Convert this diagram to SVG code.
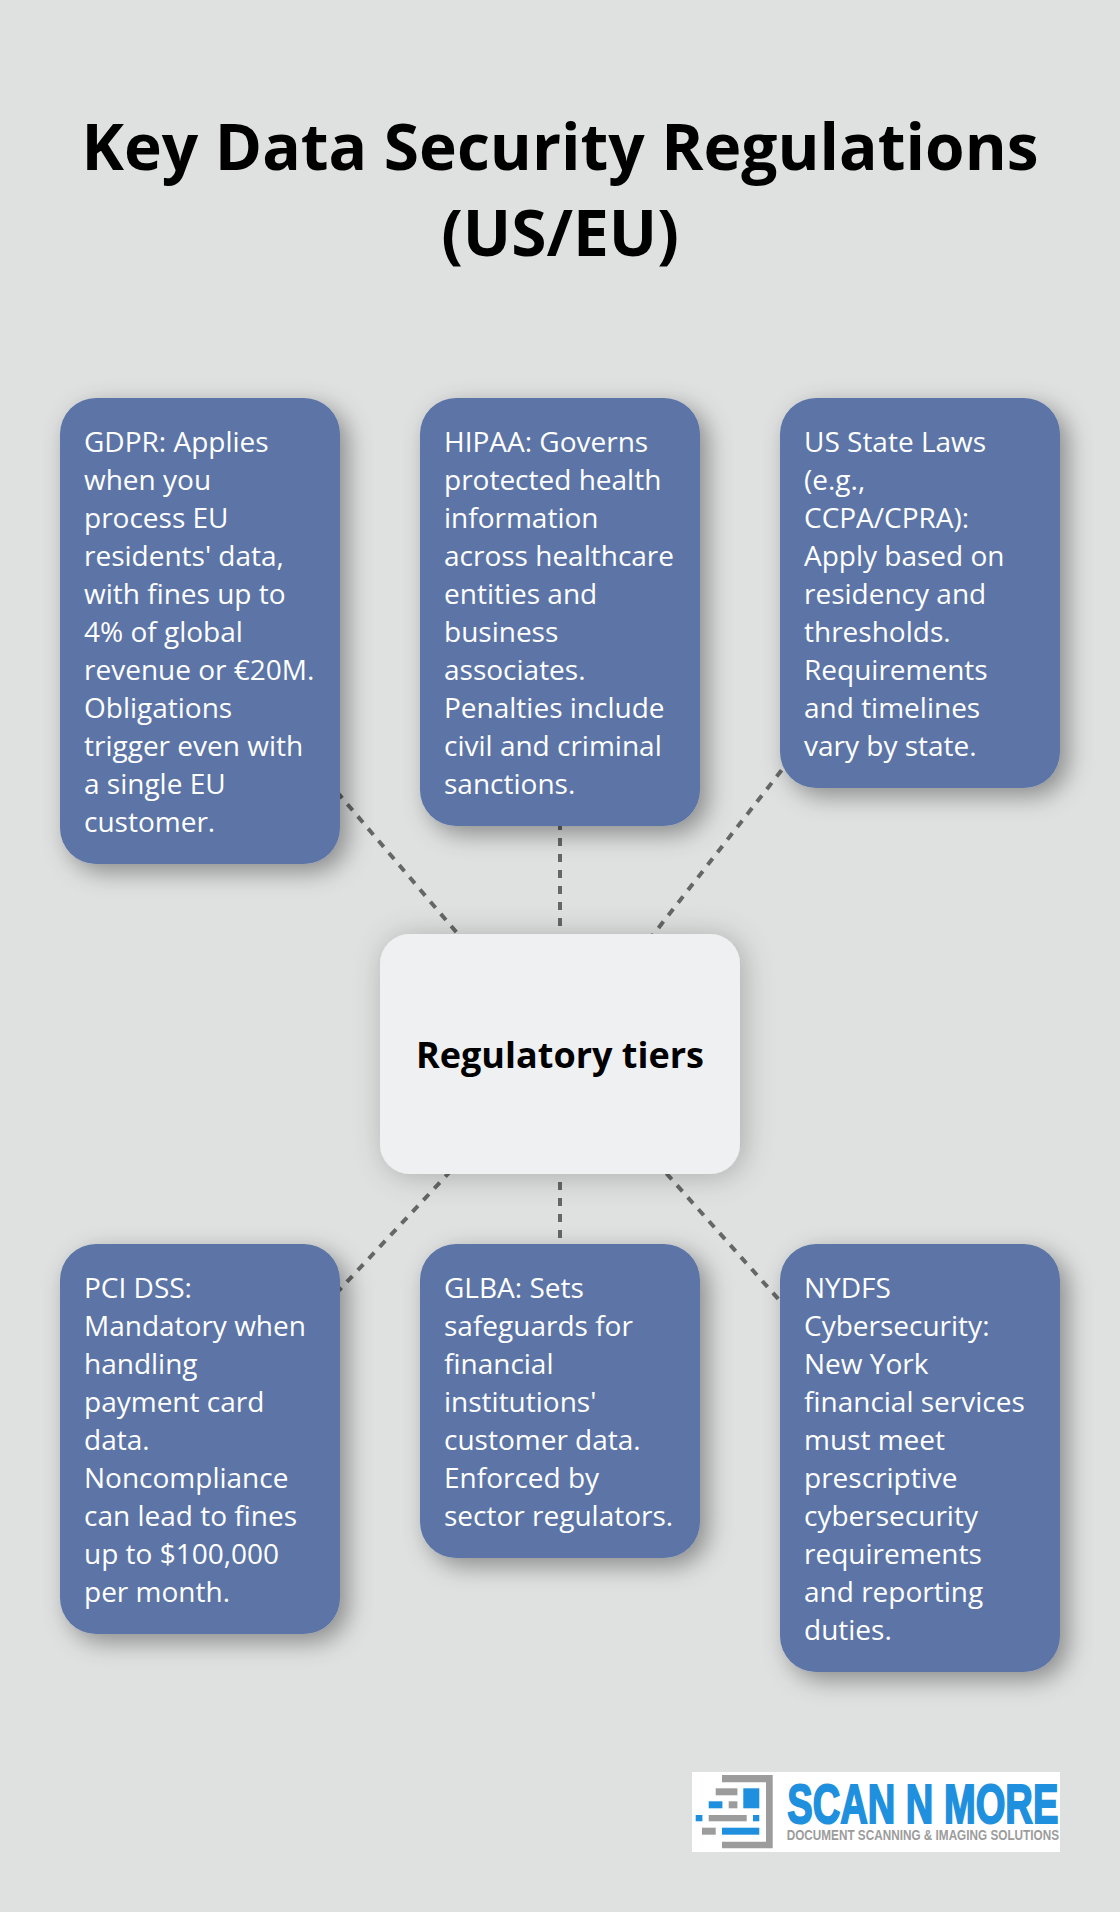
<svg xmlns="http://www.w3.org/2000/svg" width="1120" height="1912" viewBox="0 0 1120 1912">
<defs>
<filter id="sb" x="-30%" y="-30%" width="170%" height="170%"><feDropShadow dx="8" dy="8" stdDeviation="12" flood-color="#000" flood-opacity="0.38"/></filter>
<filter id="sc" x="-30%" y="-30%" width="170%" height="170%"><feDropShadow dx="4" dy="2" stdDeviation="15" flood-color="#000" flood-opacity="0.24"/></filter>
</defs>
<style>
text{font-family:"Open Sans","Noto Sans","Liberation Sans",sans-serif}
.title{font-size:64px;font-weight:700;fill:#000;text-anchor:middle}
.b{fill:#5c75a6;filter:url(#sb)}
.c{fill:#eff0f2;filter:url(#sc)}
.t{font-size:28px;fill:#fff}
.ct{font-size:36px;font-weight:700;fill:#000;text-anchor:middle}
.l{stroke:#666;stroke-width:4;stroke-dasharray:8 8;fill:none}
.g{fill:#9c9c9c}
.h{fill:#1e90de}
.lg1{font-family:"Liberation Sans",sans-serif;font-size:56px;font-weight:700;fill:#1e90de;stroke:#1e90de;stroke-width:2}
.lg2{font-family:"Liberation Sans",sans-serif;font-size:14.7px;font-weight:700;fill:#9c9c9c}
</style>
<rect width="1120" height="1912" fill="#dfe1e0"/>
<g id="title"><text class="title" x="560" y="169.5">Key Data Security Regulations</text><text class="title" x="560" y="256">(US/EU)</text></g>
<g id="connectors">
<line class="l" x1="560" y1="1054" x2="200" y2="631"/>
<line class="l" x1="560" y1="1054" x2="560" y2="612"/>
<line class="l" x1="560" y1="1054" x2="920" y2="593"/>
<line class="l" x1="560" y1="1054" x2="200" y2="1439"/>
<line class="l" x1="560" y1="1054" x2="560" y2="1401"/>
<line class="l" x1="560" y1="1054" x2="920" y2="1458"/>
</g>
<g id="node-gdpr"><rect class="b" x="60" y="398" width="280" height="466" rx="36"/>
<text class="t"><tspan x="84" y="452">GDPR: Applies</tspan><tspan x="84" y="490">when you</tspan><tspan x="84" y="528">process EU</tspan><tspan x="84" y="566">residents' data,</tspan><tspan x="84" y="604">with fines up to</tspan><tspan x="84" y="642">4% of global</tspan><tspan x="84" y="680">revenue or €20M.</tspan><tspan x="84" y="718">Obligations</tspan><tspan x="84" y="756">trigger even with</tspan><tspan x="84" y="794">a single EU</tspan><tspan x="84" y="832">customer.</tspan></text></g>
<g id="node-hipaa"><rect class="b" x="420" y="398" width="280" height="428" rx="36"/>
<text class="t"><tspan x="444" y="452">HIPAA: Governs</tspan><tspan x="444" y="490">protected health</tspan><tspan x="444" y="528">information</tspan><tspan x="444" y="566">across healthcare</tspan><tspan x="444" y="604">entities and</tspan><tspan x="444" y="642">business</tspan><tspan x="444" y="680">associates.</tspan><tspan x="444" y="718">Penalties include</tspan><tspan x="444" y="756">civil and criminal</tspan><tspan x="444" y="794">sanctions.</tspan></text></g>
<g id="node-us-state"><rect class="b" x="780" y="398" width="280" height="390" rx="36"/>
<text class="t"><tspan x="804" y="452">US State Laws</tspan><tspan x="804" y="490">(e.g.,</tspan><tspan x="804" y="528">CCPA/CPRA):</tspan><tspan x="804" y="566">Apply based on</tspan><tspan x="804" y="604">residency and</tspan><tspan x="804" y="642">thresholds.</tspan><tspan x="804" y="680">Requirements</tspan><tspan x="804" y="718">and timelines</tspan><tspan x="804" y="756">vary by state.</tspan></text></g>
<g id="node-center"><rect class="c" x="380" y="934" width="360" height="240" rx="30"/><text class="ct" x="560" y="1068">Regulatory tiers</text></g>
<g id="node-pci"><rect class="b" x="60" y="1244" width="280" height="390" rx="36"/>
<text class="t"><tspan x="84" y="1298">PCI DSS:</tspan><tspan x="84" y="1336">Mandatory when</tspan><tspan x="84" y="1374">handling</tspan><tspan x="84" y="1412">payment card</tspan><tspan x="84" y="1450">data.</tspan><tspan x="84" y="1488">Noncompliance</tspan><tspan x="84" y="1526">can lead to fines</tspan><tspan x="84" y="1564">up to $100,000</tspan><tspan x="84" y="1602">per month.</tspan></text></g>
<g id="node-glba"><rect class="b" x="420" y="1244" width="280" height="314" rx="36"/>
<text class="t"><tspan x="444" y="1298">GLBA: Sets</tspan><tspan x="444" y="1336">safeguards for</tspan><tspan x="444" y="1374">financial</tspan><tspan x="444" y="1412">institutions'</tspan><tspan x="444" y="1450">customer data.</tspan><tspan x="444" y="1488">Enforced by</tspan><tspan x="444" y="1526">sector regulators.</tspan></text></g>
<g id="node-nydfs"><rect class="b" x="780" y="1244" width="280" height="428" rx="36"/>
<text class="t"><tspan x="804" y="1298">NYDFS</tspan><tspan x="804" y="1336">Cybersecurity:</tspan><tspan x="804" y="1374">New York</tspan><tspan x="804" y="1412">financial services</tspan><tspan x="804" y="1450">must meet</tspan><tspan x="804" y="1488">prescriptive</tspan><tspan x="804" y="1526">cybersecurity</tspan><tspan x="804" y="1564">requirements</tspan><tspan x="804" y="1602">and reporting</tspan><tspan x="804" y="1640">duties.</tspan></text></g>
<g id="logo">
<rect x="692" y="1772" width="368" height="80" fill="#fff"/>
<path class="g" d="M722 1775H772.7V1848.3H722V1841.7H766V1782.3H722Z"/>
<rect class="g" x="715.7" y="1788.3" width="21.7" height="7"/><rect class="g" x="728.7" y="1801.3" width="8.7" height="7"/><rect class="g" x="708.7" y="1815" width="38" height="6.3"/><rect class="g" x="702" y="1827.7" width="13.7" height="7"/>
<rect class="h" x="743.3" y="1788.3" width="16" height="20"/><rect class="h" x="708.7" y="1801.3" width="13.7" height="7"/><rect class="h" x="695.7" y="1815" width="6.7" height="6.3"/><rect class="h" x="753" y="1815" width="6.3" height="6.3"/><rect class="h" x="722" y="1827.7" width="37.3" height="7"/>
<text class="lg1" x="787.3" y="1823.3" textLength="271" lengthAdjust="spacingAndGlyphs">SCAN N MORE</text>
<text class="lg2" x="786.7" y="1839.7" textLength="272.3" lengthAdjust="spacingAndGlyphs">DOCUMENT SCANNING &amp; IMAGING SOLUTIONS</text>
</g>
</svg>
